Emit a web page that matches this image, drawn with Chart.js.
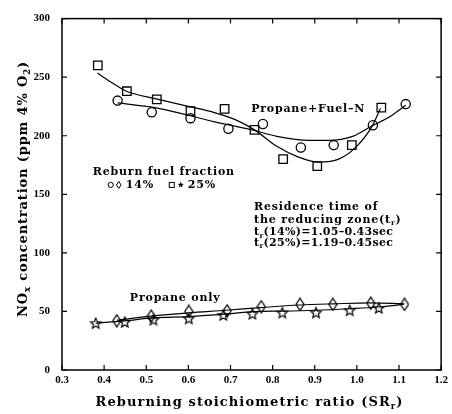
<!DOCTYPE html>
<html>
<head>
<meta charset="utf-8">
<script src="https://cdn.jsdelivr.net/npm/chart.js@4.4.1/dist/chart.umd.min.js"></script>
<style>
  html, body { margin: 0; padding: 0; background: #fff; }
  #c { display: block; }
</style>
</head>
<body>
<canvas id="c" width="452" height="414"></canvas>
<script>
// measured points, propane + fuel-N
var circle14X = [0.432, 0.513, 0.605, 0.695, 0.777, 0.867, 0.945, 1.038, 1.116];
var circle14Y = [230, 220, 215, 206, 210, 190, 192, 209, 227];
var square25X = [0.385, 0.454, 0.525, 0.605, 0.686, 0.757, 0.825, 0.906, 0.988, 1.058];
var square25Y = [260, 238, 231, 221, 223, 205, 180, 174, 192, 224];
// measured points, propane only
var diamond14X = [0.430, 0.512, 0.601, 0.692, 0.773, 0.865, 0.943, 1.033, 1.113];
var diamond14Y = [42, 46, 50, 50.5, 54, 56, 56, 57, 56];
var star25X = [0.380, 0.449, 0.517, 0.601, 0.683, 0.752, 0.823, 0.903, 0.983, 1.052];
var star25Y = [40, 41, 43, 44, 47, 48, 49, 49, 51, 53];
// fitted curves
var fit14X = [0.432, 0.52, 0.60, 0.66, 0.70, 0.757, 0.81, 0.886, 0.933, 0.99, 1.036, 1.075, 1.116];
var fit14Y = [228, 224, 217.5, 212, 209, 204.5, 199.5, 196, 196, 199.5, 208.5, 215.5, 226];
var fit25X = [0.384, 0.42, 0.453, 0.524, 0.60, 0.66, 0.71, 0.757, 0.81, 0.86, 0.91, 0.957, 0.997, 1.036, 1.056];
var fit25Y = [253.5, 245, 238, 231.5, 225, 220, 214, 205, 191, 182, 177.5, 180, 190, 208, 223.5];
var line14X = [0.430, 0.511, 0.600, 0.690, 0.772, 0.865, 0.945, 1.032, 1.113];
var line14Y = [42.5, 46, 48.8, 51, 53.3, 55.5, 56.5, 57.3, 56.5];
var line25X = [0.380, 0.449, 0.516, 0.600, 0.680, 0.768, 0.823, 0.902, 0.981, 1.052, 1.111];
var line25Y = [40, 42, 44.5, 45.5, 47.5, 50, 50.3, 51, 52.3, 53.8, 56];
// axes
var xMin = 0.3, xMax = 1.2, xStep = 0.1;
var yMin = 0, yMax = 300, yStep = 50;

var SERIF = "'DejaVu Serif', serif";

function pts(xs, ys) {
    return xs.map(function (x, i) { return { x: x, y: ys[i] }; });
}

function makeDiamond(w, h) {
    var c = document.createElement("canvas");
    c.width = w + 2; c.height = h + 2;
    var g = c.getContext("2d");
    g.strokeStyle = "#000"; g.lineWidth = 1.3;
    g.beginPath();
    g.moveTo(c.width / 2, 1); g.lineTo(c.width - 1, c.height / 2);
    g.lineTo(c.width / 2, c.height - 1); g.lineTo(1, c.height / 2);
    g.closePath(); g.stroke();
    return c;
}

function starPath(g, cx, cy, ro, ri) {
    g.beginPath();
    for (var i = 0; i < 10; i++) {
        var r = i % 2 ? ri : ro;
        var a = -Math.PI / 2 + i * Math.PI / 5;
        var px = cx + r * Math.cos(a), py = cy + r * Math.sin(a);
        if (i === 0) g.moveTo(px, py); else g.lineTo(px, py);
    }
    g.closePath();
}

function makeStar(ro) {
    var c = document.createElement("canvas");
    c.width = c.height = Math.ceil(ro * 2 + 3);
    var g = c.getContext("2d");
    g.strokeStyle = "#000"; g.lineWidth = 1.2;
    starPath(g, c.width / 2, c.height / 2 + 0.5, ro, ro * 0.45);
    g.stroke();
    return c;
}

var diamondImg = makeDiamond(8, 12);
var starImg = makeStar(5.5);

function markerSet(data, style, radius) {
    return {
        data: data, showLine: false, pointStyle: style, pointRadius: radius,
        pointHoverRadius: radius, borderColor: "#000", backgroundColor: "rgba(0,0,0,0)",
        pointBorderWidth: 1.3
    };
}
function curveSet(data) {
    return {
        data: data, showLine: true, pointRadius: 0, borderColor: "#000",
        borderWidth: 1.2, cubicInterpolationMode: "monotone", fill: false
    };
}

// text made of [text, isSub] parts, with a little letter spacing
function richWidth(ctx, parts, size, sp) {
    var w = 0;
    ctx.letterSpacing = (sp || 0) + "px";
    parts.forEach(function (p) {
        ctx.font = "bold " + (p[1] ? size * 0.65 : size) + "px " + SERIF;
        w += ctx.measureText(p[0]).width;
    });
    return w;
}
function drawRich(ctx, parts, x, y, size, sp) {
    ctx.letterSpacing = (sp || 0) + "px";
    parts.forEach(function (p) {
        var s = p[1] ? size * 0.65 : size;
        ctx.font = "bold " + s + "px " + SERIF;
        ctx.fillText(p[0], x, p[1] ? y + size * 0.28 : y);
        x += ctx.measureText(p[0]).width;
    });
}

var decorPlugin = {
    id: "decor",
    afterDraw: function (chart) {
        var ctx = chart.ctx, a = chart.chartArea;
        var xs = chart.scales.x, ys = chart.scales.y;
        ctx.save();
        ctx.strokeStyle = "#000";
        ctx.lineWidth = 1.5;
        ctx.strokeRect(a.left, a.top, a.right - a.left, a.bottom - a.top);
        // inward ticks on all four sides
        ctx.lineWidth = 1.2;
        ctx.beginPath();
        xs.ticks.forEach(function (t) {
            var px = xs.getPixelForValue(t.value);
            ctx.moveTo(px, a.bottom); ctx.lineTo(px, a.bottom - 5);
            ctx.moveTo(px, a.top); ctx.lineTo(px, a.top + 5);
        });
        ys.ticks.forEach(function (t) {
            var py = ys.getPixelForValue(t.value);
            ctx.moveTo(a.left, py); ctx.lineTo(a.left + 5, py);
            ctx.moveTo(a.right, py); ctx.lineTo(a.right - 5, py);
        });
        ctx.stroke();

        ctx.fillStyle = "#000";
        ctx.textBaseline = "middle";
        ctx.textAlign = "left";
        function at(vx, vy) { return [xs.getPixelForValue(vx), ys.getPixelForValue(vy)]; }
        var fs = 11, ls = 0.8;

        var p = at(0.749, 223);
        drawRich(ctx, [["Propane+Fuel\u2013N"]], p[0], p[1], fs, ls);
        p = at(0.373, 168.6);
        drawRich(ctx, [["Reburn fuel fraction"]], p[0], p[1], fs, ls);
        p = at(0.461, 61);
        drawRich(ctx, [["Propane only"]], p[0], p[1], fs, ls);

        p = at(0.756, 139.4);
        drawRich(ctx, [["Residence time of"]], p[0], p[1], fs, ls);
        p = at(0.756, 128.3);
        drawRich(ctx, [["the reducing zone(t"], ["r", 1], [")"]], p[0], p[1], fs, ls);
        p = at(0.756, 117.3);
        drawRich(ctx, [["t"], ["r", 1], ["(14%)=1.05\u20130.43sec"]], p[0], p[1], fs, 0.3);
        p = at(0.756, 108.3);
        drawRich(ctx, [["t"], ["r", 1], ["(25%)=1.19\u20130.45sec"]], p[0], p[1], fs, 0.3);

        // key line: circle diamond 14%  square star 25%
        p = at(0.373, 158);
        var ky = p[1], kx = p[0];
        ctx.lineWidth = 1;
        ctx.beginPath(); ctx.arc(kx + 18, ky, 2.6, 0, Math.PI * 2); ctx.stroke();
        ctx.beginPath();
        ctx.moveTo(kx + 26, ky - 3.5); ctx.lineTo(kx + 28.3, ky); ctx.lineTo(kx + 26, ky + 3.5); ctx.lineTo(kx + 23.7, ky);
        ctx.closePath(); ctx.stroke();
        drawRich(ctx, [["14%"]], kx + 33, ky, fs, ls);
        ctx.strokeRect(kx + 76.5, ky - 2.5, 5, 5);
        starPath(ctx, kx + 88, ky, 3.2, 1.4); ctx.fill();
        drawRich(ctx, [["25%"]], kx + 95, ky, fs, ls);

        // axis titles
        var xt = [["Reburning stoichiometric ratio (SR"], ["r", 1], [")"]];
        var w = richWidth(ctx, xt, 13, 1.1);
        drawRich(ctx, xt, (a.left + a.right) / 2 - w / 2 - 2, 403, 13, 1.1);

        var yt = [["NO"], ["x", 1], [" concentration (ppm 4% O"], ["2", 1], [")"]];
        w = richWidth(ctx, yt, 13, 0.85);
        ctx.translate(24, 189);
        ctx.rotate(-Math.PI / 2);
        drawRich(ctx, yt, -w / 2, 0, 13, 0.85);
        ctx.restore();
    }
};

new Chart(document.getElementById("c"), {
    type: "scatter",
    data: {
        datasets: [
            curveSet(pts(fit14X, fit14Y)),
            curveSet(pts(fit25X, fit25Y)),
            curveSet(pts(line14X, line14Y)),
            curveSet(pts(line25X, line25Y)),
            markerSet(pts(circle14X, circle14Y), "circle", 4.6),
            markerSet(pts(square25X, square25Y), "rect", 6),
            markerSet(pts(diamond14X, diamond14Y), diamondImg, 6),
            markerSet(pts(star25X, star25Y), starImg, 6)
        ]
    },
    options: {
        responsive: false,
        animation: false,
        layout: { padding: { top: 10, right: 8, left: 0, bottom: 0 } },
        plugins: { legend: { display: false }, tooltip: { enabled: false } },
        scales: {
            x: {
                type: "linear", min: xMin, max: xMax,
                grid: { display: false, drawTicks: false },
                border: { display: false },
                ticks: {
                    stepSize: xStep, padding: 4, color: "#000",
                    font: { family: "'Liberation Serif', serif", weight: "bold", size: 11 },
                    callback: function (v) { return v.toFixed(1); }
                },
                afterFit: function (s) { s.height = 44; }
            },
            y: {
                type: "linear", min: yMin, max: yMax,
                grid: { display: false, drawTicks: false },
                border: { display: false },
                ticks: {
                    stepSize: yStep, padding: 12, color: "#000",
                    font: { family: "'Liberation Serif', serif", weight: "bold", size: 11 }
                },
                afterFit: function (s) { s.width = 62; }
            }
        }
    },
    plugins: [decorPlugin]
});
</script>
</body>
</html>
